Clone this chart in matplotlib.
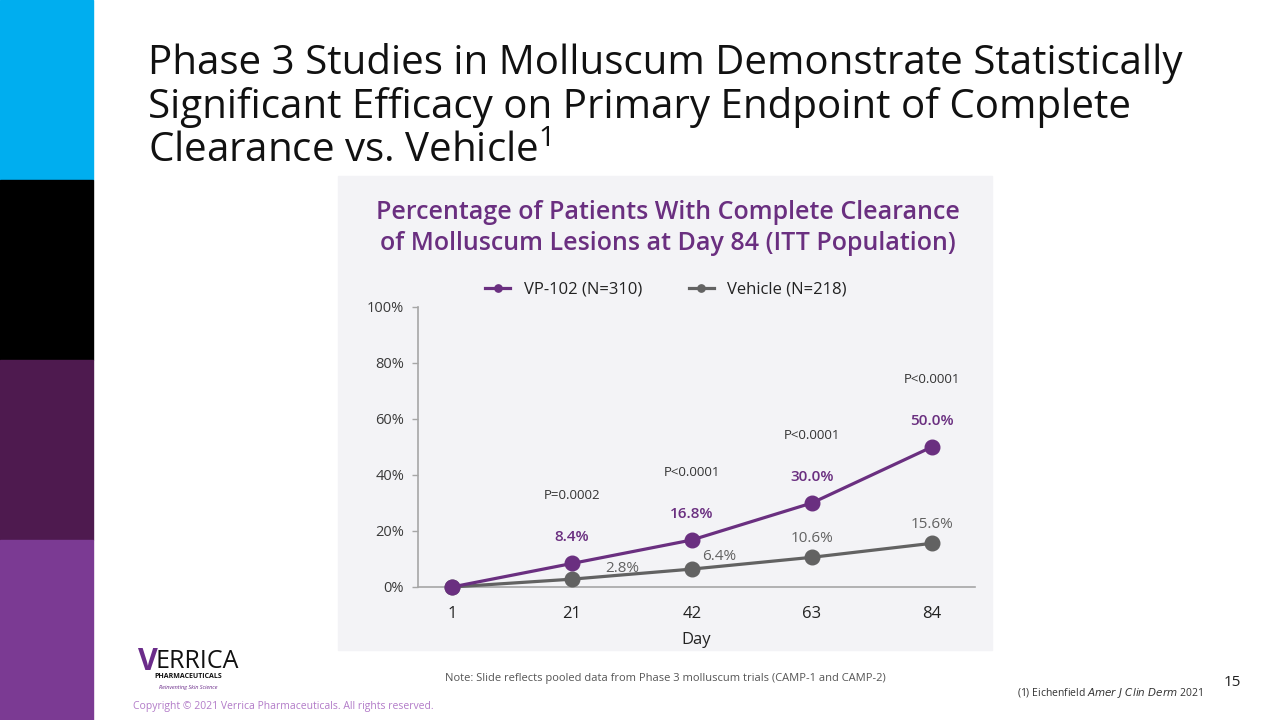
import numpy as np
import matplotlib.pyplot as plt
from matplotlib.patches import Rectangle

# Data
days = ['1', '21', '42', '63', '84']
vp102 = [0.0, 8.4, 16.8, 30.0, 50.0]
vehicle = [0.0, 2.8, 6.4, 10.6, 15.6]
p_values = ['', 'P=0.0002', 'P<0.0001', 'P<0.0001', 'P<0.0001']
yticks = [0, 20, 40, 60, 80, 100]

PURPLE = '#6A2F80'
GRAY = '#626262'
FONT = 'Open Sans'

plt.rcParams['font.family'] = [FONT, 'DejaVu Sans']

fig = plt.figure(figsize=(12.8, 7.2), dpi=100)
fig.patch.set_facecolor('white')

# Left colour strip
strip_colors = ['#00AEEF', '#000000', '#4E1A4F', '#7B3A93']
for i, c in enumerate(strip_colors):
    fig.patches.append(Rectangle((0, 1 - (i + 1) * 0.25), 93 / 1280, 0.25,
                                 transform=fig.transFigure, color=c, zorder=-2))

# Chart panel background
fig.patches.append(Rectangle((338 / 1280, 1 - 650 / 720), (992 - 338) / 1280, (650 - 176) / 720,
                             transform=fig.transFigure, color='#F3F3F6', zorder=-2))

# Slide title
fig.text(148 / 1280, 1 - 64 / 720, 'Phase 3 Studies in Molluscum Demonstrate Statistically',
         fontsize=29, color='#111111', va='center', ha='left')
fig.text(148 / 1280, 1 - 108 / 720, 'Significant Efficacy on Primary Endpoint of Complete',
         fontsize=29, color='#111111', va='center', ha='left')
fig.text(148 / 1280, 1 - 152 / 720, r'Clearance vs. Vehicle$^{\mathregular{1}}$',
         fontsize=29, color='#111111', va='center', ha='left')

# Chart title
fig.text(668 / 1280, 1 - 212 / 720, 'Percentage of Patients With Complete Clearance',
         fontsize=18, color=PURPLE, weight='semibold', ha='center', va='center')
fig.text(668 / 1280, 1 - 243 / 720, 'of Molluscum Lesions at Day 84 (ITT Population)',
         fontsize=18, color=PURPLE, weight='semibold', ha='center', va='center')

ax = fig.add_axes([418 / 1280, 1 - 587 / 720, (975 - 418) / 1280, (587 - 307) / 720], zorder=2)
ax.set_facecolor('none')
x = np.arange(len(days))
ax.plot(x, vehicle, color=GRAY, lw=2.3, marker='o', ms=10.5, zorder=3, label='Vehicle (N=218)',
        clip_on=False)
ax.plot(x, vp102, color=PURPLE, lw=2.3, marker='o', ms=10.5, zorder=4, label='VP-102 (N=310)',
        clip_on=False)

ax.set_xlim(-0.283, 4.36)
ax.set_ylim(0, 100)
ax.set_yticks(yticks)
ax.set_yticklabels([f'{v}%' for v in yticks], fontsize=10.5, color='#3A3A3A')
ax.set_xticks(x)
ax.set_xticklabels(days, fontsize=12, color='#222222')
ax.tick_params(axis='x', length=0, pad=14)
ax.tick_params(axis='y', length=4, width=1, color='#A6A6A6', pad=6)
for s in ['top', 'right']:
    ax.spines[s].set_visible(False)
for s in ['left', 'bottom']:
    ax.spines[s].set_color('#A6A6A6')
    ax.spines[s].set_linewidth(1.2)
ax.set_xlabel('Day', fontsize=12, color='#222222', labelpad=7)

# Data labels
for i in range(1, len(days)):
    ax.annotate(f'{vp102[i]:.1f}%', (x[i], vp102[i]), xytext=(0, 14), textcoords='offset points',
                ha='center', va='bottom', fontsize=11, color=PURPLE, weight='semibold')
    ax.annotate(p_values[i], (x[i], vp102[i]), xytext=(0, 44), textcoords='offset points',
                ha='center', va='bottom', fontsize=9.5, color='#333333')
veh_off = [None, (36, 2), (20, 4), (0, 8), (0, 8)]
for i in range(1, len(days)):
    ax.annotate(f'{vehicle[i]:.1f}%', (x[i], vehicle[i]), xytext=veh_off[i], textcoords='offset points',
                ha='center', va='bottom', fontsize=11, color=GRAY)

# Legend
handles, labels = ax.get_legend_handles_labels()
leg = fig.legend(handles[::-1], labels[::-1], loc='center', bbox_to_anchor=(666 / 1280, 1 - 290 / 720),
                 ncol=2, frameon=False, fontsize=12, markerscale=0.5, handlelength=1.5,
                 columnspacing=2.8, handletextpad=0.8)
for t in leg.get_texts():
    t.set_color('#222222')

# Footer
fig.text(445 / 1280, 1 - 679 / 720, 'Note: Slide reflects pooled data from Phase 3 molluscum trials (CAMP-1 and CAMP-2)',
         fontsize=8, color='#555555', va='center')
fig.text(1203 / 1280, 1 - 693 / 720, r'(1) Eichenfield $\mathit{Amer\ J\ Clin\ Derm}$ 2021',
         fontsize=7.5, color='#333333', va='center', ha='right')
fig.text(1232 / 1280, 1 - 683 / 720, '15', fontsize=11, color='#222222', va='center', ha='center')
fig.text(133 / 1280, 1 - 706 / 720, 'Copyright \u00a9 2021 Verrica Pharmaceuticals. All rights reserved.',
         fontsize=7.5, color='#B27BC8', va='center')

# Logo (text approximation)
fig.text(138 / 1280, 1 - 662 / 720, 'V', fontsize=22, color='#6B2C8A', weight='bold', va='center')
fig.text(156 / 1280, 1 - 662 / 720, 'ERRICA', fontsize=18, color='#111111', va='center')
fig.text(188 / 1280, 1 - 677 / 720, 'PHARMACEUTICALS', fontsize=5, color='#111111', weight='bold',
         va='center', ha='center')
fig.text(188 / 1280, 1 - 687 / 720, 'Reinventing Skin Science', fontsize=4, color='#6B2C8A',
         style='italic', va='center', ha='center')

fig.savefig('out.png', dpi=100, facecolor='white')
